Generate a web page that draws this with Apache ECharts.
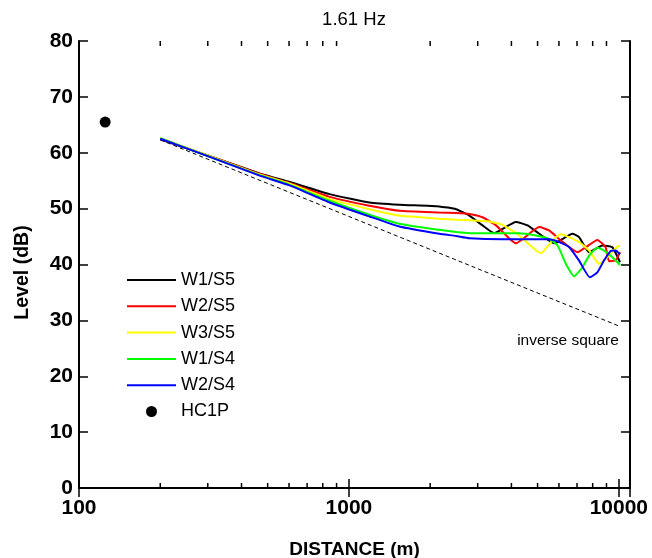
<!DOCTYPE html>
<html>
<head>
<meta charset="utf-8">
<script src="https://cdn.jsdelivr.net/npm/echarts@6/dist/echarts.min.js"></script>
<style>
html,body{margin:0;padding:0;background:#fff;}
#chart{width:652px;height:558px;}
</style>
</head>
<body>
<div id="chart"></div>
<script>
// ---- data ----
const titleText = '1.61 Hz';
const xTickValues = [100, 1000, 10000];
const minorTickValues = [200,300,400,500,600,700,800,900,2000,3000,4000,5000,6000,7000,8000,9000];

const w1s5Dist  = [200,300,467,600,848,1191,1538,2162,2495,2793,3126,3452,4155,4590,5073,5759,6733,7125,7762,8696,9466,10100];
const w1s5Level = [62.4,59.5,56.3,54.8,52.6,51.1,50.7,50.4,49.9,48.75,47.0,45.6,47.6,47.0,45.5,43.8,45.5,44.9,42.2,43.4,43.1,40.4];

const w2s5Dist  = [200,300,467,600,848,1191,1538,2162,2495,2793,3126,3508,4155,5073,5520,6097,7029,7550,8325,8935,9196,9735,10100];
const w2s5Level = [62.5,59.5,56.2,54.6,52.1,50.5,49.6,49.3,49.2,49.05,48.45,47.0,43.8,46.7,46.1,44.3,42.2,43.1,44.4,43.1,40.6,40.7,42.2];

const w3s5Dist  = [200,300,467,600,848,1191,1538,2162,2495,2793,3311,3710,4273,5142,5675,6097,7125,7762,8451,9196,9866,10100];
const w3s5Level = [62.6,59.5,56.1,54.5,51.7,49.9,48.75,48.2,48.0,47.9,47.7,47.1,45.2,42.0,44.3,45.4,44.0,42.5,40.1,41.6,43.2,43.3];

const w1s4Dist  = [200,300,467,600,848,1191,1538,2162,2495,2793,4273,4932,5520,5933,6367,6830,7331,7762,8325,8810,9466,10100];
const w1s4Level = [62.6,59.4,56.0,54.3,51.4,48.9,47.3,46.2,45.8,45.6,45.6,45.2,44.6,43.4,40.1,37.9,39.5,41.6,43.0,42.5,41.3,39.9];

const w2s4Dist  = [200,300,467,600,848,1191,1538,2162,2495,2793,3710,5520,6012,6548,7125,7805,8325,8810,9333,9735,10100];
const w2s4Level = [62.5,59.4,55.9,54.2,51.1,48.6,46.8,45.5,45.1,44.7,44.5,44.5,44.0,43.1,40.7,37.7,38.6,40.7,42.4,42.5,41.8];

const hc1pDist  = [125];
const hc1pLevel = [65.5];

const invSqDist  = [200, 10000];
const invSqLevel = [62.3, 29.0];

const seriesNames = ['W1/S5','W2/S5','W3/S5','W1/S4','W2/S4','HC1P'];
const seriesColors = ['#000000','#ff0000','#ffff00','#00ff00','#0000ff','#000000'];

const xMin = 100, xMax = 11000, yMin = 0, yMax = 80, yStep = 10;

// ---- chart ----
const zip = (a, b) => a.map((v, i) => [v, b[i]]);
const FONT = '"Liberation Sans", Arial, sans-serif';

const chart = echarts.init(document.getElementById('chart'), null, {renderer: 'canvas'});

const axisLineStyle = {color: '#000', width: 2};
const tickStyle = {color: '#000', width: 1.5};

function lineSeries(name, dist, level, color) {
  return {
    name: name, type: 'line', symbol: 'none', showSymbol: false, smooth: 0.15,
    data: zip(dist, level),
    lineStyle: {color: color, width: 2},
    itemStyle: {color: color},
    clip: true, z: 3
  };
}

const LINE_ICON = 'path://M0,0H49V2H0Z';

const option = {
  animation: false,
  backgroundColor: '#fff',
  title: {
    text: titleText, left: 349, top: 5, textAlign: 'center',
    textStyle: {fontFamily: FONT, fontSize: 18.5, fontWeight: 'normal', color: '#000'}
  },
  grid: {left: 79, right: 22, top: 41, bottom: 70, containLabel: false, outerBoundsMode: 'none'},
  legend: {
    orient: 'vertical', left: 127, top: 271, padding: 0,
    itemWidth: 49, itemHeight: 11, itemGap: 8.3,
    data: seriesNames.map((n, i) => i < 5
      ? {name: n, icon: LINE_ICON, itemStyle: {color: seriesColors[i], opacity: 1}}
      : {name: n, icon: 'circle', itemStyle: {color: seriesColors[i], opacity: 1}}),
    textStyle: {fontFamily: FONT, fontSize: 18, color: '#000'},
    selectedMode: false
  },
  xAxis: [{
    type: 'log', logBase: 10, min: xMin, max: xMax, position: 'bottom',
    name: 'DISTANCE (m)', nameLocation: 'middle', nameGap: 52,
    nameTextStyle: {fontFamily: FONT, fontSize: 19, fontWeight: 'bold', color: '#000'},
    axisLine: {show: true, lineStyle: axisLineStyle},
    axisTick: {show: true, inside: true, length: 9, lineStyle: tickStyle},
    axisLabel: {
      show: true, margin: 10, showMaxLabel: false,
      fontFamily: FONT, fontSize: 21, fontWeight: 'bold', color: '#000',
      formatter: v => {
        const r = Math.round(v);
        return xTickValues.indexOf(r) >= 0 ? String(r) : '';
      }
    },
    splitLine: {show: false}, minorTick: {show: false}
  }, {
    type: 'log', logBase: 10, min: xMin, max: xMax, position: 'top',
    axisLine: {show: true, lineStyle: axisLineStyle},
    axisTick: {show: true, inside: true, length: 9, lineStyle: tickStyle},
    axisLabel: {show: false}, splitLine: {show: false}
  }],
  yAxis: [{
    type: 'value', min: yMin, max: yMax, interval: yStep, position: 'left',
    name: 'Level (dB)', nameLocation: 'middle', nameGap: 46,
    nameTextStyle: {fontFamily: FONT, fontSize: 19.5, fontWeight: 'bold', color: '#000', padding: [0, 16, 0, 0]},
    axisLine: {show: true, lineStyle: axisLineStyle},
    axisTick: {show: true, inside: true, length: 9, lineStyle: tickStyle},
    axisLabel: {margin: 6, fontFamily: FONT, fontSize: 21, fontWeight: 'bold', color: '#000'},
    splitLine: {show: false}
  }, {
    type: 'value', min: yMin, max: yMax, interval: yStep, position: 'right',
    axisLine: {show: true, lineStyle: axisLineStyle},
    axisTick: {show: true, inside: true, length: 9, lineStyle: tickStyle},
    axisLabel: {show: false}, splitLine: {show: false}
  }],
  series: [
    {
      name: 'minorTicks', type: 'custom', silent: true, clip: false, z: 5,
      data: minorTickValues.map(v => [v, yMin]),
      encode: {x: 0, y: 1},
      renderItem: (params, api) => {
        const x = api.coord([api.value(0), yMin])[0];
        const yb = api.coord([api.value(0), yMin])[1];
        const yt = api.coord([api.value(0), yMax])[1];
        return {
          type: 'group',
          children: [
            {type: 'line', shape: {x1: x, y1: yb, x2: x, y2: yb - 5}, style: {stroke: '#000', lineWidth: 1.5}},
            {type: 'line', shape: {x1: x, y1: yt, x2: x, y2: yt + 5}, style: {stroke: '#000', lineWidth: 1.5}}
          ]
        };
      }
    },
    {
      name: 'inverse square', type: 'line', showSymbol: true, symbol: 'circle', symbolSize: 0,
      data: invSqDist.map((d, i) => i === invSqDist.length - 1 ? {
        value: [d, invSqLevel[i]],
        label: {
          show: true, formatter: 'inverse square', position: 'bottom', align: 'right', distance: 7,
          fontFamily: FONT, fontSize: 15.5, color: '#000'
        }
      } : [d, invSqLevel[i]]),
      lineStyle: {color: '#000', width: 1, type: [4, 3]},
      itemStyle: {color: '#000'}, z: 2, silent: true
    },
    lineSeries(seriesNames[0], w1s5Dist, w1s5Level, seriesColors[0]),
    lineSeries(seriesNames[1], w2s5Dist, w2s5Level, seriesColors[1]),
    lineSeries(seriesNames[2], w3s5Dist, w3s5Level, seriesColors[2]),
    lineSeries(seriesNames[3], w1s4Dist, w1s4Level, seriesColors[3]),
    lineSeries(seriesNames[4], w2s4Dist, w2s4Level, seriesColors[4]),
    {
      name: seriesNames[5], type: 'scatter', symbol: 'circle', symbolSize: 11,
      data: zip(hc1pDist, hc1pLevel),
      itemStyle: {color: seriesColors[5], opacity: 1}, z: 4
    }
  ]
};
chart.setOption(option);
</script>
</body>
</html>
